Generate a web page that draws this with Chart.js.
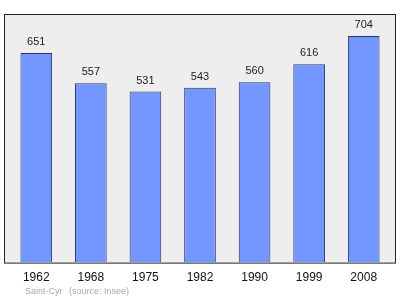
<!DOCTYPE html>
<html>
<head>
<meta charset="utf-8">
<script src="https://cdn.jsdelivr.net/npm/chart.js@4/dist/chart.umd.min.js"></script>
<style>
    html, body { margin: 0; padding: 0; background: #fff; }
    #wrap { width: 400px; height: 299px; position: relative; }
</style>
</head>
<body>
<div id="wrap"><canvas id="popChart"></canvas></div>
<script>
const years = ["1962", "1968", "1975", "1982", "1990", "1999", "2008"];
const population = [651, 557, 531, 543, 560, 616, 704];
const townName = "Saint-Cyr";
const sourceText = "(source: Insee)";

// grey box behind the bars, a bit wider than the chart area
const frameBox = {
    id: "frameBox",
    beforeDatasetsDraw(chart) {
        const { ctx, chartArea } = chart;
        ctx.save();
        ctx.fillStyle = "#eeeeee";
        ctx.strokeStyle = "#222";
        ctx.lineWidth = 1;
        const x = chartArea.left - 5, w = chartArea.right - chartArea.left + 10;
        ctx.fillRect(x, chartArea.top, w, chartArea.bottom - chartArea.top);
        ctx.strokeRect(x + 0.5, chartArea.top + 0.5, w - 1, chartArea.bottom - chartArea.top);
        ctx.restore();
    },
};

const valueLabels = {
    id: "valueLabels",
    afterDatasetsDraw(chart) {
        const { ctx } = chart;
        const meta = chart.getDatasetMeta(0);
        ctx.save();
        ctx.font = "11px 'Liberation Sans', sans-serif";
        ctx.fillStyle = "#222";
        ctx.textAlign = "center";
        ctx.textBaseline = "middle";
        meta.data.forEach((bar, i) => {
            ctx.fillText(population[i], bar.x, bar.y - 11);
        });
        // footer
        ctx.font = "9px 'Liberation Sans', sans-serif";
        ctx.fillStyle = "#aaa";
        ctx.textAlign = "left";
        ctx.fillText(townName, 25, 292);
        ctx.fillText(sourceText, 69, 292);
        ctx.restore();
    },
};

new Chart(document.getElementById("popChart"), {
    type: "bar",
    data: {
        labels: years,
        datasets: [
            {
                data: population,
                backgroundColor: "#7396ff",
                borderColor: "#2a3366",
                borderWidth: 1,
                barPercentage: 0.58,
                categoryPercentage: 1,
            },
        ],
    },
    options: {
        responsive: true,
        maintainAspectRatio: false,
        animation: false,
        layout: { padding: { top: 14, left: 9, right: 9, bottom: 14 } },
        plugins: { legend: { display: false }, tooltip: { enabled: false } },
        scales: {
            x: {
                grid: { display: false },
                border: { display: false },
                ticks: { color: "#111", font: { size: 12, family: "'Liberation Sans', sans-serif" }, padding: 0 },
            },
            y: { display: false, min: 0, max: 772 },
        },
    },
    plugins: [frameBox, valueLabels],
});
</script>
</body>
</html>
